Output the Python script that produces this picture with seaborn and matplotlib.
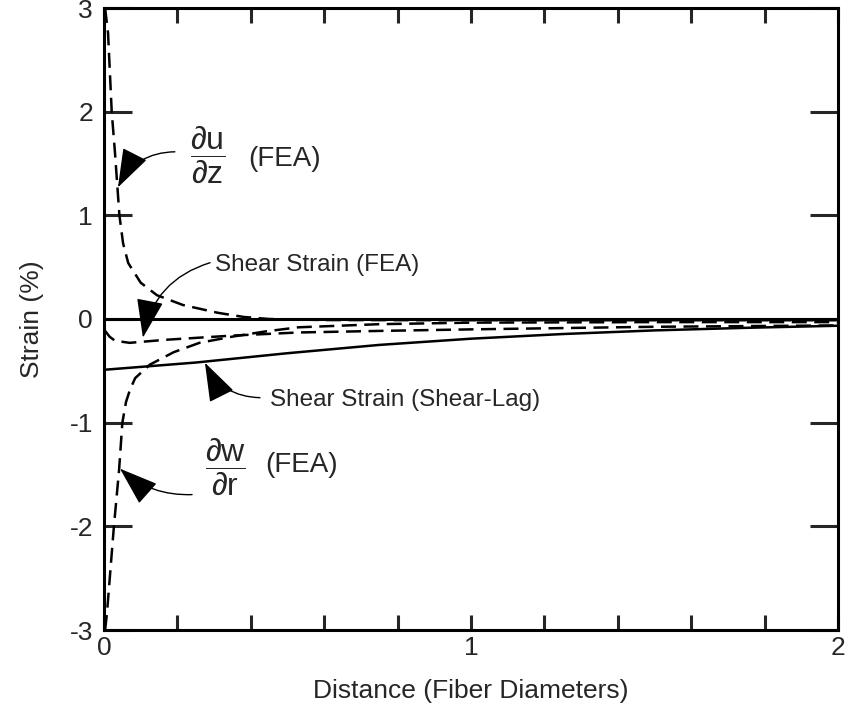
import matplotlib
matplotlib.use("Agg")
import matplotlib.pyplot as plt
import seaborn as sns
import pandas as pd
from matplotlib.ticker import MultipleLocator

# ---- data ----
dudz_x = [0.003, 0.011, 0.021, 0.030, 0.042, 0.052, 0.066, 0.10, 0.144, 0.215, 0.31, 0.38, 0.45, 0.6, 1.0, 1.5, 2.0]
dudz_y = [3.0, 2.76, 2.0, 1.60, 1.0, 0.73, 0.54, 0.35, 0.23, 0.135, 0.06, 0.02, 0.0, -0.01, -0.012, -0.012, -0.012]

dwdr_x = [0.003, 0.008, 0.027, 0.041, 0.05, 0.06, 0.071, 0.085, 0.125, 0.19, 0.26, 0.35, 0.44, 0.53, 0.75, 1.0, 1.5, 2.0]
dwdr_y = [-3.0, -2.84, -2.0, -1.46, -1.0, -0.8, -0.68, -0.57, -0.44, -0.32, -0.23, -0.17, -0.12, -0.08, -0.05, -0.035, -0.03, -0.03]

sfea_x = [0.0, 0.015, 0.03, 0.07, 0.17, 0.26, 0.35, 0.53, 0.75, 1.0, 1.5, 2.0]
sfea_y = [-0.10, -0.17, -0.21, -0.23, -0.20, -0.18, -0.16, -0.13, -0.115, -0.10, -0.075, -0.062]

slag_x = [0.0, 0.25, 0.5, 0.75, 1.0, 1.25, 1.5, 1.75, 2.0]
slag_y = [-0.49, -0.42, -0.33, -0.25, -0.19, -0.145, -0.11, -0.085, -0.065]

zero_x = [0.0, 2.0]
zero_y = [0.0, 0.0]

x_ticks = [0, 1, 2]
y_ticks = [-3, -2, -1, 0, 1, 2, 3]

# ---- style ----
sns.set_style("ticks")
plt.rcParams["font.family"] = ["Liberation Sans", "DejaVu Sans"]
plt.rcParams["mathtext.fontset"] = "custom"
plt.rcParams["mathtext.rm"] = "Liberation Sans"
plt.rcParams["mathtext.it"] = "Liberation Sans"
plt.rcParams["mathtext.default"] = "regular"

fig = plt.figure(figsize=(8.51, 7.13), dpi=100)
ax = fig.add_axes([104 / 851, (713 - 630) / 713, (838 - 104) / 851, (630 - 8) / 713])

dash = (0, (6, 3))
lw = 1.8
sns.lineplot(x=zero_x, y=zero_y, ax=ax, color="black", lw=2.2)
sns.lineplot(x=slag_x, y=slag_y, ax=ax, color="black", lw=lw)
sns.lineplot(x=sfea_x, y=sfea_y, ax=ax, color="black", lw=lw, linestyle=dash)
sns.lineplot(x=dudz_x, y=dudz_y, ax=ax, color="black", lw=lw, linestyle=dash)
sns.lineplot(x=dwdr_x, y=dwdr_y, ax=ax, color="black", lw=lw, linestyle=dash)

ax.set_xlim(0, 2)
ax.set_ylim(-3, 3)
ax.set_xticks(x_ticks)
ax.set_xticklabels([str(t) for t in x_ticks])
ax.xaxis.set_minor_locator(MultipleLocator(0.2))
ax.set_yticks(y_ticks)
ax.set_yticklabels([str(t) for t in y_ticks])

for s in ax.spines.values():
    s.set_linewidth(2.2)
    s.set_color("black")
ax.tick_params(axis="x", which="both", direction="in", top=True, bottom=True,
               length=11, width=2.2, labelsize=19, pad=4)
ax.tick_params(axis="y", which="both", direction="in", left=True, right=True,
               length=20, width=2.2, labelsize=19, pad=8)

ax.set_xlabel("Distance (Fiber Diameters)", fontsize=19, labelpad=14)
ax.set_ylabel("Strain (%)", fontsize=19, labelpad=18)

# ---- annotations ----
fs = 17.5
ffs = 23
fea_fs = 20
ax.text(0.234, 1.58, r"$\dfrac{\partial u}{\partial z}$", fontsize=ffs, ha="left", va="center")
ax.text(0.392, 1.54, "(FEA)", fontsize=fea_fs, ha="left", va="center")
ax.text(0.302, 0.52, "Shear Strain (FEA)", fontsize=fs, ha="left", va="center")
ax.text(0.452, -0.78, "Shear Strain (Shear-Lag)", fontsize=fs, ha="left", va="center")
ax.text(0.275, -1.43, r"$\dfrac{\partial w}{\partial r}$", fontsize=ffs, ha="left", va="center")
ax.text(0.439, -1.405, "(FEA)", fontsize=fea_fs, ha="left", va="center")

arrow = dict(arrowstyle="-|>,head_length=0.95,head_width=0.33", color="black", lw=1.0,
             shrinkA=0, shrinkB=0, mutation_scale=26)
ax.annotate("", xy=(0.038, 1.27), xytext=(0.193, 1.613),
            arrowprops=dict(arrow, connectionstyle="arc3,rad=0.3"))
ax.annotate("", xy=(0.106, -0.18), xytext=(0.289, 0.543),
            arrowprops=dict(arrow, connectionstyle="arc3,rad=0.3"))
ax.annotate("", xy=(0.275, -0.422), xytext=(0.425, -0.759),
            arrowprops=dict(arrow, connectionstyle="arc3,rad=-0.3"))
ax.annotate("", xy=(0.0436, -1.444), xytext=(0.24, -1.694),
            arrowprops=dict(arrow, connectionstyle="arc3,rad=-0.2"))

fig.savefig("out.png", dpi=100)
